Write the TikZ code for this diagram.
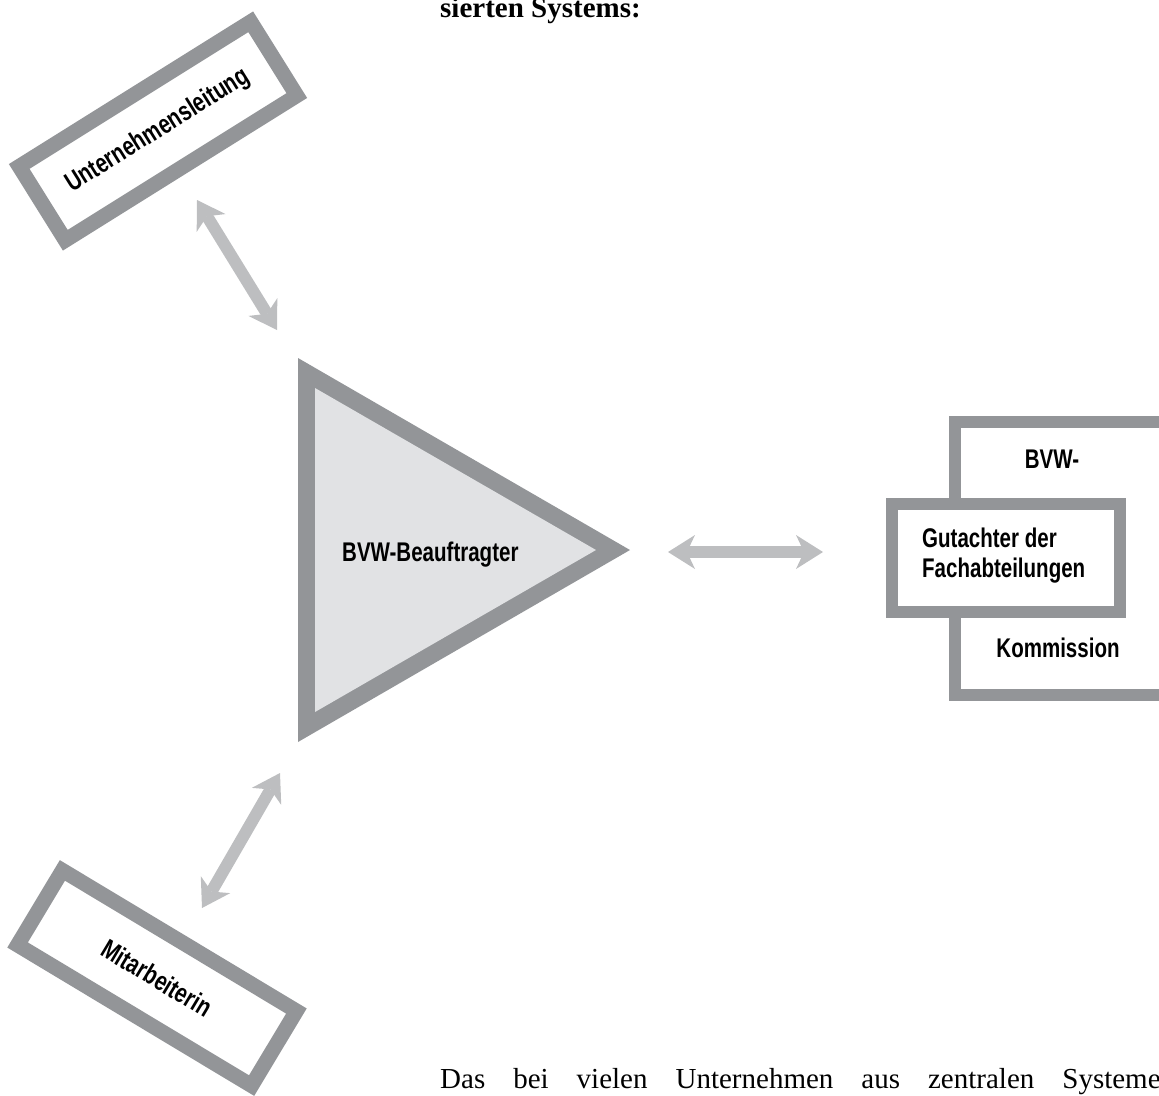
\documentclass[tikz,border=0pt]{standalone}
\usepackage{fontspec}
\setmainfont{Liberation Serif}
\newfontfamily\labelfont[FakeStretch=0.76]{Liberation Sans}
\usetikzlibrary{arrows.meta, positioning, calc}
\definecolor{framegray}{RGB}{147,149,152}
\definecolor{wedgefill}{RGB}{225,226,228}
\definecolor{linkgray}{RGB}{189,190,192}
\tikzset{
    lbl/.style={font=\labelfont\bfseries\fontsize{27}{30}\selectfont, inner sep=0pt},
    rolebox/.style={lbl, draw=framegray, line width=15pt, fill=white, minimum width=273pt, minimum height=87pt},
    panel/.style={draw=framegray, line width=12pt, fill=white, inner sep=0pt},
    linktip/.tip={Stealth[length=27pt, width=34pt, inset=8pt, line width=0pt]},
    link/.style={draw=linkgray, line width=12pt, linktip-linktip},
    bodytext/.style={font=\fontsize{29}{34}\selectfont, inner sep=0pt, anchor=base west}
}

\begin{document}
\begin{tikzpicture}[x=1pt, y=-1pt]
    \useasboundingbox (0,0) rectangle (1159,1095);
    \clip (0,0) rectangle (1159,1095);

    % Fliesstext
    \node[bodytext, font=\bfseries\fontsize{29}{34}\selectfont] (prevline) at (440,17) {sierten Systems:};
    \node[bodytext] (nextline) at (440,1088) {\spaceskip=28pt\relax Das bei vielen Unternehmen aus zentralen Systemen};

    % Dreieck
    \coordinate (wTL) at (298,358);
    \coordinate (wBL) at (298,742);
    \coordinate (wTip) at (630,550);
    \fill[framegray] (wTL) -- (wTip) -- (wBL) -- cycle;
    \fill[wedgefill] (315,388) -- (596,550) -- (315,712) -- cycle;
    \node[lbl, anchor=base west] (beauf) at (342,561) {BVW-Beauftragter};

    % Rollen
    \node[rolebox, rotate=32] (leitung) at (158,131) {Unternehmensleitung};
    \node[rolebox, rotate=-31] (mitarb) at (157,978) {Mitarbeiterin};

    % Kommission
    \node[panel, minimum width=210pt, minimum height=273pt, anchor=north west] (kommbox) at (949,416) {};
    \node[panel, minimum width=228pt, minimum height=108pt, anchor=north west] (gutbox) at (886,498) {};
    \node[lbl, anchor=base] (bvw) at (1052,468) {BVW-};
    \node[lbl, anchor=base west] (gut) at (922,547) {Gutachter der};
    \node[lbl, anchor=base west] (fach) at ([yshift=-30pt]gut.base west) {Fachabteilungen};
    \node[lbl, anchor=base] (komm) at (1058,657) {Kommission};

    % Pfeile
    \coordinate (leitEnd) at (197,200);
    \coordinate (leitStart) at (277,330);
    \coordinate (mitStart) at (280,773);
    \coordinate (mitEnd) at (202,908);
    \coordinate (gutStart) at (668,552);
    \coordinate (gutEnd) at (823,552);
    \draw[link] (leitStart) -- (leitEnd);
    \draw[link] (mitStart) -- (mitEnd);
    \draw[link] (gutStart) -- (gutEnd);
\end{tikzpicture}
\end{document}
